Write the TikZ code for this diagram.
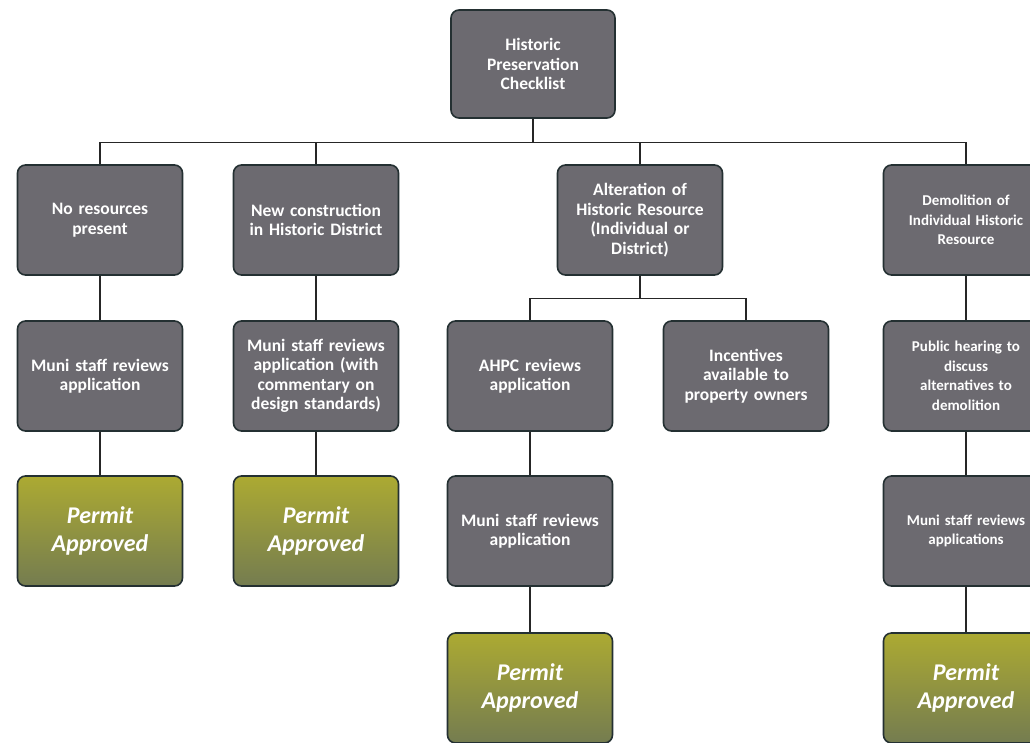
\documentclass[tikz,border=0pt]{standalone}
\usepackage{fontspec}
\setmainfont{Carlito}
\definecolor{boxgray}{RGB}{108,106,112}
\definecolor{boxedge}{RGB}{36,48,50}
\definecolor{permittop}{RGB}{172,170,50}
\definecolor{permitbot}{RGB}{116,124,80}
\begin{document}
\begin{tikzpicture}[x=1pt,y=-1pt,
  stage/.style={draw=boxedge,line width=1.6pt,rounded corners=8pt,fill=boxgray,text=white,
    font=\bfseries\fontsize{17.5}{19.5}\selectfont,align=center,text width=162pt,
    minimum width=165pt,minimum height=110pt,inner sep=1pt},
  edgestage/.style={stage,font=\bfseries\fontsize{15}{19.5}\selectfont},
  permit/.style={stage,top color=permittop,bottom color=permitbot,
    font=\bfseries\itshape\fontsize{24}{28}\selectfont},
  link/.style={line width=1.3pt,black!85}]
\useasboundingbox (0,0) rectangle (1030,742);

\node (hp) at (533,64) [stage,minimum width=162pt,minimum height=108pt] {Historic\\Preservation\\Checklist};

\node (nr)  at (100,220) [stage] {No resources\\present};
\node (nc)  at (316,220) [stage] {New construction\\in Historic District};
\node (alt) at (640,220) [stage] {Alteration of\\Historic Resource\\(Individual or\\District)};
\node (dem) at (966,220) [edgestage] {Demolition of\\Individual Historic\\Resource};

\node (ms1)  at (100,376) [stage] {Muni staff reviews\\application};
\node (ms2)  at (316,376) [stage] {Muni staff reviews\\application (with\\commentary on\\design standards)};
\node (ahpc) at (530,376) [stage] {AHPC reviews\\application};
\node (inc)  at (746,376) [stage] {Incentives\\available to\\property owners};
\node (ph)   at (966,376) [edgestage] {Public hearing to\\discuss\\alternatives to\\demolition};

\node (ms3) at (530,531) [stage] {Muni staff reviews\\application};
\node (ms4) at (966,531) [edgestage] {Muni staff reviews\\applications};

\foreach \n/\x/\y in {pa1/100/531,pa2/316/531,pa3/530/688,pa4/966/688}
  \node (\n) at (\x,\y) [permit] {Permit\\Approved};

\foreach \n in {nr,nc,alt,dem}
  \draw [link] (hp.south) -- ++(0,24) -| (\n.north);
\foreach \n in {ahpc,inc}
  \draw [link] (alt.south) -- ++(0,23) -| (\n.north);
\foreach \a/\b in {nr/ms1,nc/ms2,dem/ph,ph/ms4,ahpc/ms3,ms1/pa1,ms2/pa2,ms3/pa3,ms4/pa4}
  \draw [link] (\a) -- (\b);
\end{tikzpicture}
\end{document}
